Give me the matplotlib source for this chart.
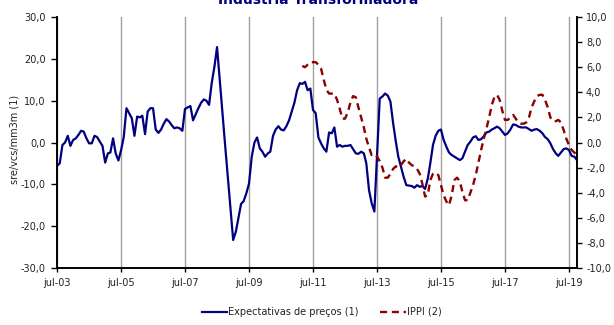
import matplotlib
matplotlib.use('Agg')
import matplotlib.pyplot as plt
import pandas as pd
from matplotlib.ticker import FuncFormatter, MultipleLocator

plt.rcParams['font.family'] = 'DejaVu Sans'

# expectativas de precos (sre/vcs/mm3m), monthly from jul-03
expectativas = [
    -5.6, -5.0, -0.6, 0.0, 1.6, -0.8, 0.6, 1.0, 1.8, 2.8, 2.6, 1.0,
    -0.2, -0.2, 1.6, 1.3, 0.2, -0.8, -4.8, -2.6, -2.4, 1.0, -2.6, -4.3,
    -1.9, 1.3, 8.2, 7.0, 5.8, 1.6, 6.2, 6.0, 6.4, 2.0, 7.4, 8.2,
    8.2, 3.1, 2.3, 3.1, 4.5, 5.6, 5.0, 4.1, 3.4, 3.6, 3.4, 2.8,
    8.0, 8.4, 8.7, 5.3, 6.8, 8.2, 9.5, 10.3, 10.0, 9.0, 14.2, 18.1,
    22.8, 14.9, 7.0, -0.6, -8.2, -15.7, -23.3, -21.3, -18.1, -14.7, -14.0, -12.1,
    -9.8, -3.4, 0.0, 1.2, -1.4, -2.2, -3.4, -2.6, -2.2, 1.6, 3.1, 3.9,
    3.1, 2.9, 3.9, 5.3, 7.4, 9.5, 12.5, 14.2, 14.0, 14.5, 12.5, 12.9,
    7.8, 7.0, 1.2, -0.2, -1.4, -2.2, 2.4, 2.2, 3.6, -1.0, -0.6, -1.0,
    -0.8, -0.8, -0.6, -1.6, -2.6, -2.7, -2.2, -2.6, -5.0, -11.4, -14.5, -16.5,
    -3.0, 10.5, 11.0, 11.7, 11.2, 9.8, 4.6, 0.2, -3.4, -5.8, -8.2, -10.2,
    -10.3, -10.4, -10.8, -10.2, -10.6, -10.4, -11.1, -8.6, -5.0, -0.6, 1.6, 2.8,
    3.1, 0.6, -1.0, -2.4, -3.0, -3.4, -3.8, -4.2, -3.8, -2.2, -0.6, 0.2,
    1.2, 1.5, 0.6, 0.8, 1.5, 2.4, 2.6, 3.1, 3.4, 3.8, 3.4, 2.6,
    1.8, 2.2, 3.1, 4.3, 4.2, 3.8, 3.6, 3.6, 3.6, 3.2, 2.8, 3.1,
    3.2, 2.8, 2.2, 1.3, 0.8, -0.2, -1.6, -2.6, -3.2, -2.4, -1.6, -1.4,
    -1.8, -3.2, -3.4, -4.2,
]

# IPPI (%), monthly from mar-11
ippi = [
    6.1, 6.0, 6.2, 6.4, 6.4, 6.4, 6.2, 5.9, 5.0, 4.2,
    3.9, 3.9, 3.9, 3.4, 2.7, 1.9, 1.9, 2.4, 3.2, 3.7,
    3.6, 2.8, 2.0, 1.2, 0.3, -0.4, -1.0, -0.9, -1.1, -1.5,
    -2.0, -2.8, -2.8, -2.5, -2.1, -1.9, -2.0, -1.8, -1.5, -1.3,
    -1.6, -1.8, -1.9, -2.1, -2.5, -3.3, -4.3, -4.2, -3.0, -2.5,
    -2.4, -2.6, -3.4, -4.2, -4.7, -5.0, -4.2, -3.0, -2.8, -3.1,
    -3.9, -4.6, -4.6, -4.0, -3.4, -2.6, -1.6, -0.6, 0.3, 1.1,
    2.0, 3.0, 3.6, 3.8, 3.4, 2.5, 1.8, 1.8, 2.0, 2.2,
    1.9, 1.6, 1.5, 1.5, 1.6, 2.0, 2.8, 3.3, 3.7, 3.8,
    3.8, 3.4, 2.8, 2.0, 1.7, 1.7, 1.8, 1.6, 1.0, 0.3,
    -0.2, -0.6, -0.8, -1.0,
]

serie_labels = ['Expectativas de preços (1)', 'IPPI (2)']
titulo = 'Indústria Transformadora'
ylabel_esq = 'sre/vcs/mm3m (1)'

datas = pd.date_range('2003-07-01', periods=len(expectativas), freq='MS')
datas_ippi = pd.date_range('2011-03-01', periods=len(ippi), freq='MS')
ticks_x = pd.date_range('2003-07-01', '2019-07-01', freq='24MS')

azul = '#000080'
vermelho = '#8b0000'
txt = '#222222'


def virgula(v, pos):
    return f'{v:.1f}'.replace('.', ',')


fig = plt.figure(figsize=(6.14, 3.25), dpi=100)
ax = fig.add_axes([57 / 614, 57 / 325, 520 / 614, 251 / 325])
ax2 = ax.twinx()

ax.grid(axis='x', color='#a0a0a0', lw=1.0)
ax.set_axisbelow(True)

l1, = ax.plot(datas, expectativas, color=azul, lw=1.6)
l2, = ax2.plot(datas_ippi, ippi, color=vermelho, lw=1.7, dashes=(3, 2))

ax.set_xlim(datas[0], datas[-1])
ax.set_ylim(-30, 30)
ax2.set_ylim(-10, 10)

ax.yaxis.set_major_locator(MultipleLocator(10))
ax2.yaxis.set_major_locator(MultipleLocator(2))
ax.yaxis.set_major_formatter(FuncFormatter(virgula))
ax2.yaxis.set_major_formatter(FuncFormatter(virgula))

ax.set_xticks(ticks_x)
ax.set_xticklabels([f'jul-{d:%y}' for d in ticks_x])

for a in (ax, ax2):
    a.spines['top'].set_visible(False)
    for s in a.spines.values():
        s.set_linewidth(1.2)
        s.set_color('black')

ax.tick_params(axis='y', direction='out', length=4, width=1, pad=4,
               labelsize=7, labelcolor=txt)
ax.tick_params(axis='x', direction='out', length=3, width=1, pad=4,
               labelsize=7, labelcolor=txt)
ax2.tick_params(axis='y', direction='out', length=3.5, width=1, pad=3,
                labelsize=7, labelcolor=txt)

fig.text(15 / 614, 1 - 139 / 325, ylabel_esq, rotation=90, ha='center',
         va='center', fontsize=7, color=txt)

# title sits right at the top edge of the figure
fig.text(0.518, 1 - 4 / 325, titulo, ha='center', va='baseline',
         fontsize=10, fontweight='bold', color=azul)

fig.legend([l1, l2], serie_labels, loc='center', bbox_to_anchor=(0.524, 0.04),
           ncol=2, frameon=False, fontsize=7, handlelength=2.6,
           handletextpad=0.15, columnspacing=2.2, labelcolor=txt)

fig.savefig('out.png', dpi=100)
